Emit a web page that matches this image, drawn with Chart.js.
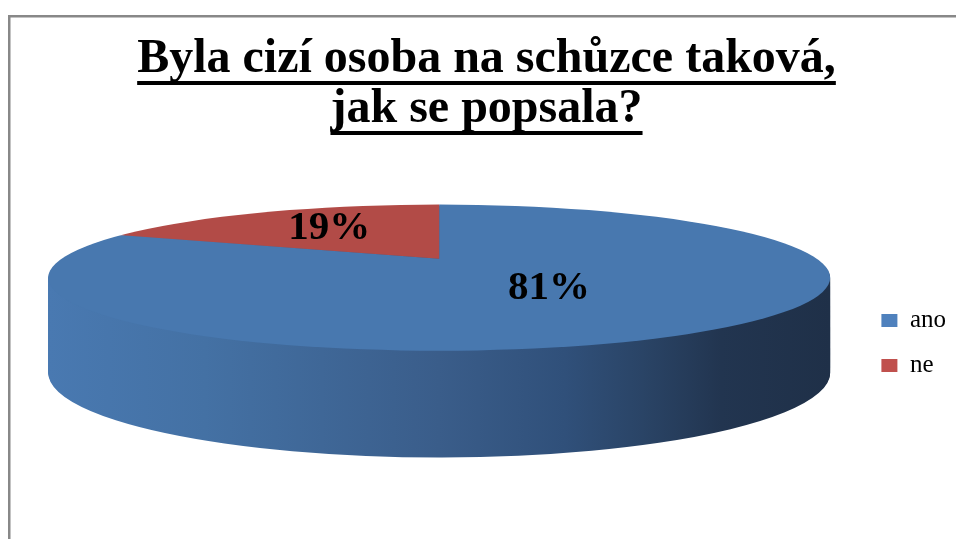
<!DOCTYPE html>
<html>
<head>
<meta charset="utf-8">
<script src="https://cdn.jsdelivr.net/npm/chart.js@4.4.1/dist/chart.umd.min.js"></script>
<style>
  html, body { margin: 0; padding: 0; background: #fff; }
  #wrap { width: 956px; height: 539px; position: relative; }
</style>
</head>
<body>
<div id="wrap"><canvas id="pieChart"></canvas></div>
<script>
const categories = ['ano', 'ne'];
const shares = [81, 19];
const titleLines = ['Byla cizí osoba na schůzce taková,', 'jak se popsala?'];
const topColors = ['#4878AF', '#B24B47'];
const legendColors = ['#4F81BD', '#C0504D'];
const sideStops = [[0, '#4979B1'], [0.2, '#4471A4'], [0.5, '#3A5D8A'], [0.66, '#30507A'], [0.76, '#2A4466'], [0.86, '#223550'], [1, '#1F3048']];

const SERIF = "'Liberation Serif', 'Times New Roman', serif";
const TILT = 0.187;        // height / width of the top ellipse
const DEPTH = 95;          // thickness of the cake
const BOTTOM_GROW = 1.16;  // lower rim a bit rounder (perspective)
const APEX_LIFT = 19;      // slice centre sits behind the ellipse centre
const PIE_NUDGE = -12;     // pie block vs chart area centre

function pieGeometry(chart) {
  const arcs = chart.getDatasetMeta(0).data;
  const { x: cx, y: cy, outerRadius: R } = arcs[0];
  const bTop = R * TILT;
  const bBot = bTop * BOTTOM_GROW;
  const topY = cy + PIE_NUDGE - (bTop + DEPTH + bBot) / 2 + bTop;
  return { arcs, cx, cy, R, bTop, bBot, topY, apexY: topY - APEX_LIFT };
}

function paintArc(arc, ctx, fill) {
  const saved = arc.options;
  arc.options = Object.assign({}, saved, { backgroundColor: fill, borderWidth: 0 });
  arc.draw(ctx);
  arc.options = saved;
}

const frame = {
  id: 'frame',
  beforeDraw(chart) {
    const ctx = chart.ctx;
    ctx.save();
    ctx.fillStyle = '#fff';
    ctx.fillRect(0, 0, chart.width, chart.height);
    ctx.strokeStyle = '#888';
    ctx.lineWidth = 2.5;
    ctx.strokeRect(9.25, 16.25, chart.width + 40, chart.height + 40);
    ctx.restore();
  }
};

const cake = {
  id: 'cake',
  beforeDatasetsDraw(chart) {
    const g = pieGeometry(chart);
    const ctx = chart.ctx;
    const grad = ctx.createLinearGradient(g.cx - g.R, 0, g.cx + g.R, 0);
    sideStops.forEach(([t, c]) => grad.addColorStop(t, c));

    // side of the cake: stacked copies of the slices, bottom first
    for (let d = DEPTH; d >= 1; d--) {
      const b = g.bTop + (g.bBot - g.bTop) * d / DEPTH;
      ctx.save();
      ctx.translate(g.cx, g.topY + d);
      ctx.scale(1, b / g.R);
      ctx.translate(-g.cx, -g.cy);
      g.arcs.forEach(arc => paintArc(arc, ctx, grad));
      ctx.restore();
    }

    // top face, slices radiate from the apex, clipped to the rim
    const S = 1.4;
    ctx.save();
    ctx.beginPath();
    ctx.ellipse(g.cx, g.topY, g.R, g.bTop, 0, 0, Math.PI * 2);
    ctx.clip();
    ctx.translate(g.cx, g.apexY);
    ctx.scale(S, S * TILT);
    ctx.translate(-g.cx, -g.cy);
    g.arcs.forEach(arc => arc.draw(ctx));
    ctx.restore();
    return false;
  },
  afterDraw(chart) {
    const g = pieGeometry(chart);
    const ctx = chart.ctx;
    ctx.save();
    ctx.fillStyle = '#000';
    ctx.font = `bold 41px ${SERIF}`;
    ctx.textAlign = 'center';
    ctx.textBaseline = 'middle';
    g.arcs.forEach((arc, i) => {
      const p = arc.tooltipPosition();
      const y = g.apexY + (p.y - g.cy) * TILT;
      ctx.fillText(shares[i] + '%', p.x, y);
    });
    ctx.restore();
  }
};

const underline = {
  id: 'underline',
  afterDraw(chart) {
    const tb = chart.titleBlock;
    const t = chart.options.plugins.title;
    const lh = t.font.size * t.font.lineHeight;
    const ctx = chart.ctx;
    ctx.save();
    ctx.font = `bold ${t.font.size}px ${SERIF}`;
    ctx.fillStyle = '#000';
    const midX = (tb.left + tb.right) / 2;
    titleLines.forEach((line, i) => {
      const w = ctx.measureText(line).width;
      const yMid = tb.top + t.padding.top + lh / 2 + i * lh;
      ctx.fillRect(midX - w / 2, yMid + 21, w, 4);
    });
    ctx.restore();
  }
};

new Chart(document.getElementById('pieChart'), {
  type: 'pie',
  data: {
    labels: categories,
    datasets: [{
      data: shares,
      backgroundColor: topColors,
      borderWidth: 0,
      radius: 391
    }]
  },
  options: {
    responsive: true,
    maintainAspectRatio: false,
    animation: false,
    events: [],
    layout: { padding: { top: 10, left: 17, right: 0, bottom: 0 } },
    plugins: {
      title: {
        display: true,
        text: titleLines,
        color: '#000',
        font: { family: SERIF, size: 48, weight: 'bold', lineHeight: 50 / 48 },
        padding: { top: 25, bottom: 12 }
      },
      legend: {
        position: 'right',
        align: 'center',
        fullSize: false,
        labels: {
          color: '#000',
          font: { family: SERIF, size: 25 },
          boxWidth: 16,
          boxHeight: 13,
          padding: 20,
          generateLabels(chart) {
            const items = Chart.overrides.doughnut.plugins.legend.labels.generateLabels(chart);
            items.forEach((it, i) => {
              it.fillStyle = legendColors[i];
              it.strokeStyle = legendColors[i];
              it.lineWidth = 0;
            });
            return items;
          }
        }
      },
      tooltip: { enabled: false }
    }
  },
  plugins: [frame, cake, underline]
});
</script>
</body>
</html>
